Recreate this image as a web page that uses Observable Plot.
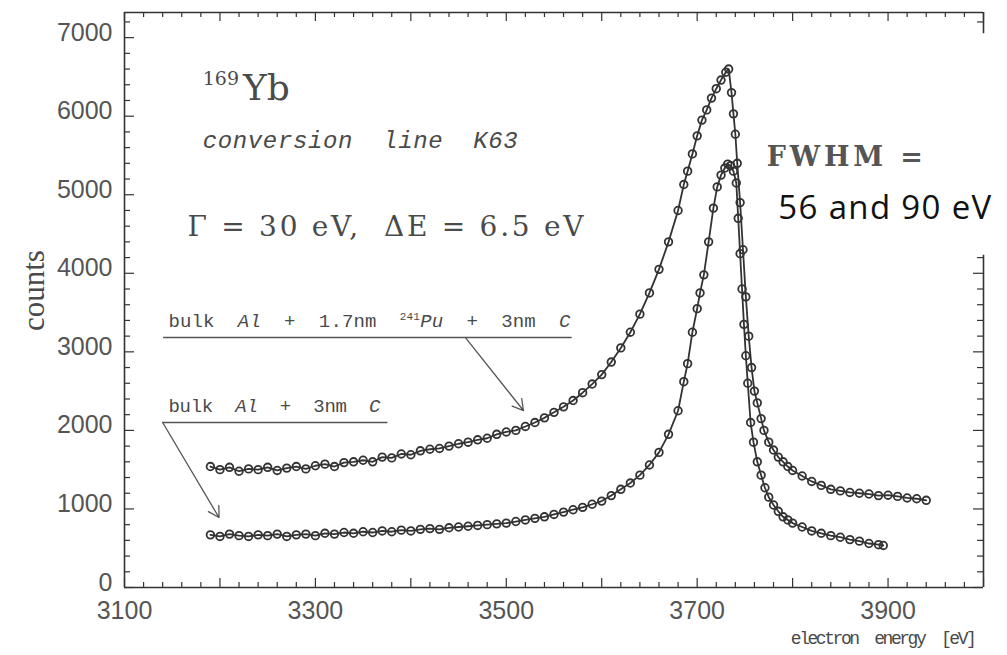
<!DOCTYPE html>
<html><head><meta charset="utf-8">
<script src="https://cdn.jsdelivr.net/npm/d3@7"></script>
<script src="https://cdn.jsdelivr.net/npm/@observablehq/plot@0.6"></script>
<style>body{margin:0;background:#fff}#chart{position:absolute;left:0;top:0}</style>
</head><body><div id="chart"></div>
<script>
// ---- data ----
const energyPu = [3190,3200,3210,3220,3230,3240,3250,3260,3270,3280,3290,3300,3310,3320,3330,3340,3350,3360,3370,3380,3390,3400,3410,3420,3430,3440,3450,3460,3470,3480,3490,3500,3510,3520,3530,3540,3550,3560,3570,3580,3590,3600,3610,3620,3630,3640,3650,3660,3670,3680,3686,3690,3695,3700,3705,3710,3715,3720,3725,3730,3733,3736,3738,3740,3742,3745,3748,3751,3754,3757,3760,3763,3767,3770,3775,3780,3785,3790,3795,3800,3810,3820,3830,3840,3850,3860,3870,3880,3890,3900,3910,3920,3930,3940];
const countsPu = [1540,1500,1530,1480,1510,1500,1530,1490,1520,1540,1510,1550,1570,1540,1590,1600,1620,1600,1660,1650,1700,1690,1740,1760,1770,1800,1830,1850,1880,1900,1950,1980,2000,2050,2100,2160,2230,2300,2380,2480,2590,2710,2870,3050,3250,3480,3750,4050,4400,4800,5130,5300,5520,5750,5950,6080,6230,6350,6460,6560,6600,6300,6030,5770,5400,4900,4300,3700,3200,2800,2500,2350,2150,2000,1850,1750,1660,1600,1540,1490,1420,1350,1300,1250,1230,1210,1200,1190,1170,1175,1160,1140,1130,1110];
const energyC = [3190,3200,3210,3220,3230,3240,3250,3260,3270,3280,3290,3300,3310,3320,3330,3340,3350,3360,3370,3380,3390,3400,3410,3420,3430,3440,3450,3460,3470,3480,3490,3500,3510,3520,3530,3540,3550,3560,3570,3580,3590,3600,3610,3620,3630,3640,3650,3660,3670,3680,3686,3690,3695,3700,3703,3707,3712,3717,3721,3725,3729,3732,3735,3738,3741,3743,3745,3747,3749,3751,3753,3756,3759,3763,3767,3771,3775,3780,3785,3790,3795,3800,3810,3820,3830,3840,3850,3860,3870,3880,3890,3895];
const countsC = [670,650,680,660,650,670,660,680,650,670,680,660,690,680,700,690,710,700,720,710,730,720,740,750,740,760,770,780,790,800,810,820,840,860,880,900,930,960,990,1020,1060,1100,1170,1250,1330,1430,1560,1720,1950,2250,2620,2850,3250,3550,3750,3980,4400,4830,5100,5250,5340,5390,5370,5300,5150,4700,4250,3800,3350,2950,2600,2100,1850,1600,1430,1270,1150,1050,970,900,860,820,770,720,690,660,640,610,590,560,545,535];
const xTickLabels = [3100,3300,3500,3700,3900];
const yTickLabels = [0,1000,2000,3000,4000,5000,6000,7000];
const seriesNames = ["bulk Al + 1.7nm 241Pu + 3nm C", "bulk Al + 3nm C"];

// ---- layout ----
const W = 1007, H = 655, mL = 124, mR = 24, mT = 12, mB = 68;
const fw = W - mL - mR, fh = H - mT - mB;
const xDom = [3100, 4000], yDom = [0, 7320];
const kx = (xDom[1] - xDom[0]) / fw, ky = (yDom[1] - yDom[0]) / fh; // data units per pixel
const ink = "#333", txt = "#4a4a4a";

const pu = energyPu.map((e, i) => ({e, c: countsPu[i]}));
const cc = energyC.map((e, i) => ({e, c: countsC[i]}));

const xMajor = d3.range(3100, 4001, 100), xMinor = d3.range(3100, 4001, 20).filter(v => v % 100);
const yMajor = d3.range(0, 7001, 1000), yMinor = d3.range(200, 7300, 200).filter(v => v % 1000);
const rightVisible = v => v < 4230 || v > 7050;

const notes = [
  {x: 3182, y: 6200, t: "169Yb"},
  {x: 3182, y: 5600, t: "conversion  line  K63"},
  {x: 3166, y: 4480, t: "Γ = 30 eV,  ΔE = 6.5 eV"},
  {x: 3146, y: 3310, t: seriesNames[0]},
  {x: 3146, y: 2228, t: seriesNames[1]}
];
const underlines = [{x1: 3141, x2: 3569, y: 3183}, {x1: 3140, x2: 3376, y: 2100}];
const leaders = [{x1: 3457, y1: 3183, x2: 3518, y2: 2253}, {x1: 3140, y1: 2100, x2: 3199, y2: 891}];

const tickX = (vals, len, top) => Plot.ruleX(vals, {x: d => d, y1: top ? yDom[1] - len * ky : 0, y2: top ? yDom[1] : len * ky, stroke: ink, strokeWidth: 1.2});
const tickY = (vals, len, right) => Plot.ruleY(vals, {y: d => d, x1: right ? xDom[1] - len * kx : xDom[0], x2: right ? xDom[1] : xDom[0] + len * kx, stroke: ink, strokeWidth: 1.2});

const plot = Plot.plot({
  width: W, height: H, marginLeft: mL, marginRight: mR, marginTop: mT, marginBottom: mB,
  style: {fontFamily: "Liberation Sans", color: "#555", background: "#fff"},
  x: {domain: xDom},
  y: {domain: yDom},
  marks: [
    // frame
    Plot.ruleY([0, yDom[1]], {stroke: ink, strokeWidth: 1.6}),
    Plot.ruleX([3100], {stroke: ink, strokeWidth: 1.6}),
    Plot.ruleX([{a: 0, b: 4230}, {a: 7050, b: yDom[1]}], {x: 4000, y1: "a", y2: "b", stroke: ink, strokeWidth: 1.6}),
    // inward ticks
    tickX(xMajor, 9, false), tickX(xMinor, 5, false),
    tickX(xMajor, 9, true), tickX(xMinor, 5, true),
    tickY(yMajor, 10, false), tickY(yMinor, 6, false),
    tickY(yMajor.filter(rightVisible), 10, true), tickY(yMinor.filter(rightVisible), 6, true),
    // tick labels
    Plot.axisY({ticks: yTickLabels, tickFormat: d => String(d), tickSize: 0, tickPadding: 12, dy: -5, fontSize: 25, label: null}),
    Plot.axisX({ticks: xTickLabels, tickFormat: d => String(d), tickSize: 0, tickPadding: 14, fontSize: 25, label: null}),
    // axis titles
    Plot.text(["counts"], {x: 3005, y: 3780, text: d => d, rotate: -90, fontFamily: "Liberation Serif", fontSize: 31, fill: txt}),
    Plot.text(["electron  energy  [eV]"], {x: 3993, y: -713, text: d => d, textAnchor: "end", lineAnchor: "bottom", fontFamily: "Liberation Mono", fontSize: 18, fill: txt}),
    // data
    Plot.line(pu, {x: "e", y: "c", stroke: ink, strokeWidth: 1.8}),
    Plot.dot(pu, {x: "e", y: "c", r: 3.8, stroke: ink, strokeWidth: 1.8}),
    Plot.line(cc, {x: "e", y: "c", stroke: ink, strokeWidth: 1.8}),
    Plot.dot(cc, {x: "e", y: "c", r: 3.8, stroke: ink, strokeWidth: 1.8}),
    // annotations
    Plot.ruleY(underlines, {x1: "x1", x2: "x2", y: "y", stroke: "#555", strokeWidth: 1.4}),
    Plot.arrow(leaders, {x1: "x1", y1: "y1", x2: "x2", y2: "y2", stroke: "#555", strokeWidth: 1.3, headLength: 14}),
    Plot.text(notes, {x: "x", y: "y", text: "t", textAnchor: "start", lineAnchor: "bottom", fill: txt, fontSize: 20}),
    Plot.text(["FWHM ="], {x: 3773, y: 5360, text: d => d, textAnchor: "start", lineAnchor: "bottom", fontSize: 28, fill: "#555"}),
    Plot.text(["56 and 90 eV"], {x: 3785, y: 4697, text: d => d, textAnchor: "start", lineAnchor: "bottom", fontSize: 33, fill: "#111"})
  ]
});

// rich text styling (font, width as measured on the reference)
const rich = {
  "169Yb": {ff: "DejaVu Serif", fs: 36, html: '<tspan font-size="19" dy="-15">169</tspan><tspan dy="15" dx="4">Yb</tspan>'},
  "conversion  line  K63": {ff: "Liberation Mono", fs: 24, len: 315, html: '<tspan font-style="italic">conversion  line  K63</tspan>'},
  "Γ = 30 eV,  ΔE = 6.5 eV": {ff: "DejaVu Serif", fs: 28, len: 396, html: 'Γ = 30 eV,  ΔE = 6.5 eV'},
  [seriesNames[0]]: {ff: "Liberation Mono", fs: 19, len: 402, html: 'bulk  <tspan font-style="italic">Al</tspan>  +  1.7nm  <tspan font-size="11" dy="-7">241</tspan><tspan font-style="italic" dy="7">Pu</tspan>  +  3nm  <tspan font-style="italic">C</tspan>'},
  [seriesNames[1]]: {ff: "Liberation Mono", fs: 19, len: 212, html: 'bulk  <tspan font-style="italic">Al</tspan>  +  3nm  <tspan font-style="italic">C</tspan>'},
  "FWHM =": {ff: "DejaVu Serif", fs: 27, len: 156, bold: true, html: 'FWHM ='},
  "56 and 90 eV": {ff: "Open Sans", fs: 33, len: 213, html: '56 and 90 eV'},
  "electron  energy  [eV]": {ff: "Liberation Mono", fs: 18, len: 186, html: 'electron  energy  [eV]'}
};
d3.select(plot).selectAll("text").each(function() {
  const r = rich[this.textContent];
  if (r) {
    this.innerHTML = r.html;
    this.style.whiteSpace = "pre";
    this.style.fontFamily = r.ff;
    this.style.fontSize = r.fs + "px";
    if (r.bold) this.style.fontWeight = "bold";
    if (r.len) { this.setAttribute("textLength", r.len); this.setAttribute("lengthAdjust", "spacing"); }
  }
});
document.getElementById("chart").appendChild(plot);
</script></body></html>
